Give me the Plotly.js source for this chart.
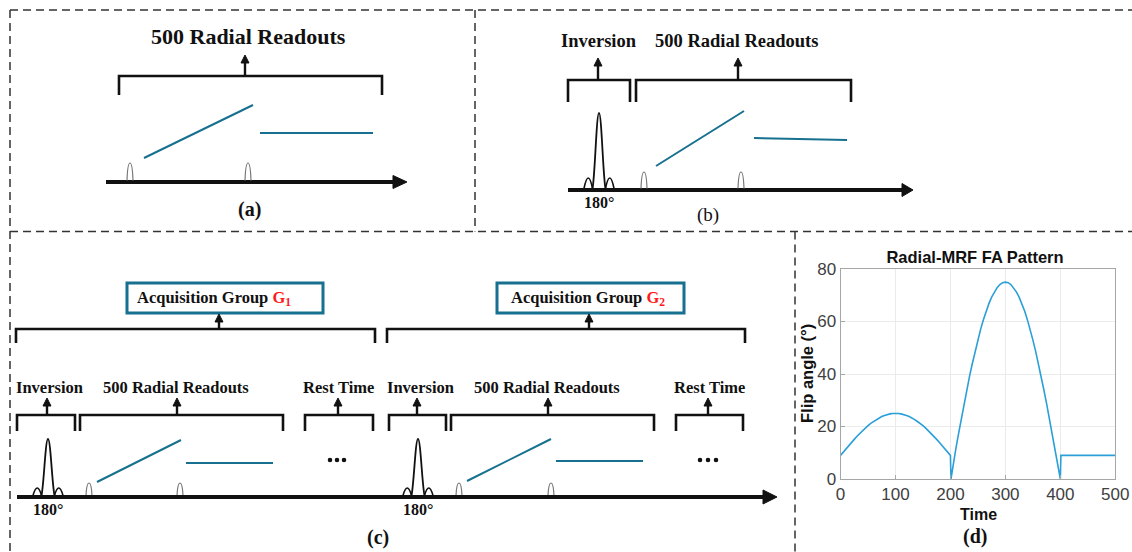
<!DOCTYPE html>
<html>
<head>
<meta charset="utf-8">
<script src="https://cdn.plot.ly/plotly-3.0.1.min.js"></script>
<style>html,body{margin:0;padding:0;background:#fff;}#chart{width:1132px;height:552px;}</style>
</head>
<body>
<div id="chart"></div>
<script>
// ---------- data (panel d: Radial-MRF flip angle pattern) ----------
const timeSteps = [0,5,10,15,20,25,30,35,40,45,50,55,60,65,70,75,80,85,90,95,
                   100,105,110,115,120,125,130,135,140,145,150,155,160,165,170,175,180,185,190,195,200,
                   201,205,210,215,220,225,230,235,240,245,250,255,260,265,270,275,280,285,290,295,
                   300,305,310,315,320,325,330,335,340,345,350,355,360,365,370,375,380,385,390,395,400,
                   401,500];
const flipAngle = [9.0,10.3,11.5,12.7,13.9,15.1,16.3,17.4,18.4,19.4,20.3,21.2,21.9,22.6,23.3,23.8,24.2,24.6,24.8,24.95,
                   25.0,24.95,24.8,24.6,24.2,23.8,23.3,22.6,21.9,21.2,20.3,19.4,18.4,17.4,16.3,15.1,13.9,12.7,11.5,10.3,9.0,
                   0.0,5.9,11.7,17.5,23.2,28.7,34.0,39.4,44.1,48.7,53.0,57.1,60.7,64.0,66.8,69.3,71.3,72.9,74.1,74.8,
                   75.0,74.8,74.1,72.9,71.3,69.3,66.8,64.0,60.7,57.1,53.0,48.7,44.1,39.4,34.0,28.7,23.2,17.5,11.7,5.9,0.0,
                   9.0,9.0];
const xTickVals = [0,100,200,300,400,500];
const yTickVals = [0,20,40,60,80];

// ---------- text labels ----------
const readoutLabel = '500 Radial Readouts';
const inversionLabel = 'Inversion';
const restLabel = 'Rest Time';
const pulseLabel = '180°';
const groupLabel = 'Acquisition Group';
const groupIds = ['G<sub>1</sub>','G<sub>2</sub>'];
const panelLabels = ['(a)','(b)','(c)','(d)'];

// ---------- helpers (pixel -> paper) ----------
const W = 1132, H = 552;
const X = px => px / W;
const Y = py => 1 - py / H;
const ink = '#111111';
const teal = '#17708f';
const shapes = [];
const annotations = [];

function seg(x0,y0,x1,y1,color,width,dash){
  shapes.push({type:'line',xref:'paper',yref:'paper',x0:X(x0),y0:Y(y0),x1:X(x1),y1:Y(y1),
    line:{color:color||ink,width:width||2.5,dash:dash||'solid'}});
}
function build(cmds){
  return cmds.map(c=>{
    const k=c[0]; const nums=c.slice(1); let s=k;
    for(let i=0;i<nums.length;i+=2){ s += (i? ' ':'') + X(nums[i]).toFixed(5)+','+Y(nums[i+1]).toFixed(5); }
    return s;
  }).join(' ');
}
function pth(cmds,color,width,fill){
  shapes.push({type:'path',xref:'paper',yref:'paper',path:build(cmds),
    line:{color:color||ink,width:width||2},fillcolor:fill||'rgba(0,0,0,0)'});
}
function bracket(x1,x2,top,bottom){
  pth([['M',x1,bottom],['L',x1,top],['L',x2,top],['L',x2,bottom]],ink,2.6);
}
function upArrow(x,from,tip){
  seg(x,from,x,tip+6,ink,2.4);
  pth([['M',x-4,tip+8],['L',x,tip],['L',x+4,tip+8],['Z']],ink,1,ink);
}
function axisArrow(x0,x1,tip,y,hh){
  seg(x0,y,x1+1,y,ink,4.2);
  pth([['M',x1,y-hh],['L',tip,y],['L',x1,y+hh],['Z']],ink,1,ink);
}
function sinc(cx,base,peak,lobePeak){
  pth([['M',cx-6.5,base],['C',cx-4,base-12,cx-2.6,peak,cx,peak],['C',cx+2.6,peak,cx+4,base-12,cx+6.5,base]],ink,1.8);
  const c = 2*lobePeak - base;
  pth([['M',cx-15,base],['Q',cx-10.75,c,cx-6.5,base]],ink,1.6);
  pth([['M',cx+6.5,base],['Q',cx+10.75,c,cx+15,base]],ink,1.6);
}
function blip(x,base,top){
  const c = base + (top-base)*4/3;
  pth([['M',x-3,base],['C',x-2.2,c,x+2.2,c,x+3,base]],'#777',1.2);
}
function dots(xs,y){
  xs.forEach(x=>shapes.push({type:'circle',xref:'paper',yref:'paper',x0:X(x-2.3),x1:X(x+2.3),y0:Y(y-2.3),y1:Y(y+2.3),
    line:{width:0},fillcolor:ink}));
}
function txt(x,y,text,size,extra){
  annotations.push(Object.assign({xref:'paper',yref:'paper',x:X(x),y:Y(y),xanchor:'center',yanchor:'middle',
    text:text,showarrow:false,
    font:{family:'"Liberation Serif","Times New Roman",serif',size:size,color:ink}},extra||{}));
}

// ---------- dashed panel borders ----------
const dsh = '8px,5px';
seg(10,10,1132,10,'#333',1.5,dsh);
seg(10,231.5,1132,231.5,'#333',1.5,dsh);
seg(10,10,10,552,'#333',1.5,dsh);
seg(475,10,475,231.5,'#333',1.5,dsh);
seg(795,231.5,795,552,'#333',1.5,dsh);

// ---------- panel (a) ----------
txt(248,37,'<b>'+readoutLabel+'</b>',22);
bracket(119,382,76,95);
upArrow(245,76,55);
seg(144,158,253,105,teal,2);
seg(260,133,373,133,teal,2);
axisArrow(106,393,407,182,6.5);
blip(130,180.5,163);
blip(248,180.5,163);
txt(250,209,'<b>'+panelLabels[0]+'</b>',20);

// ---------- panel (b) ----------
txt(599,41,'<b>'+inversionLabel+'</b>',18.5);
txt(736,41,'<b>'+readoutLabel+'</b>',18.5);
bracket(568,630,80,102);
upArrow(598,80,58);
bracket(636,851,80,102);
upArrow(738,80,58);
axisArrow(568,902,913,190,6.5);
sinc(599,188.5,113,178);
blip(644,188.5,172);
blip(741,188.5,172);
seg(656,166,744,111,teal,2);
seg(754,138,847,140,teal,2);
txt(599,203,'<b>'+pulseLabel+'</b>',16);
txt(708,215,panelLabels[1],19);

// ---------- panel (c) ----------
const groups = [
  {big:[16,375],  bigArrow:219, box:[127,323], boxText:214,
   inv:[17,75,47], read:[80,283,177], rest:[305,373,338], labels:[49,176,338],
   sinc:48, blips:[89,180], ramp:[97,482,181,440], flat:[186,463,273,463], dots:[330,337,344]},
  {big:[387,745], bigArrow:589, box:[497,684], boxText:588,
   inv:[389,446,417], read:[451,654,548], rest:[676,743,708], labels:[420,547,709],
   sinc:418, blips:[459,551], ramp:[467,481,551,439], flat:[556,461,643,461], dots:[700,708,716]}
];
groups.forEach((g,i)=>{
  shapes.push({type:'rect',xref:'paper',yref:'paper',x0:X(g.box[0]),x1:X(g.box[1]),y0:Y(313),y1:Y(283),
    line:{color:teal,width:3},fillcolor:'#fff'});
  txt(g.boxText,298,'<b>'+groupLabel+' <span style="color:#ff1a1a">'+groupIds[i]+'</span></b>',16.5);
  bracket(g.big[0],g.big[1],329,343);
  upArrow(g.bigArrow,329,314);
  txt(g.labels[0],387,'<b>'+inversionLabel+'</b>',16.5);
  txt(g.labels[1],387,'<b>'+readoutLabel+'</b>',16.5);
  txt(g.labels[2],387,'<b>'+restLabel+'</b>',16.5);
  [g.inv,g.read,g.rest].forEach(b=>{ bracket(b[0],b[1],415,431); upArrow(b[2],415,398); });
  sinc(g.sinc,495.5,439,488);
  g.blips.forEach(b=>blip(b,495.5,483));
  seg(g.ramp[0],g.ramp[1],g.ramp[2],g.ramp[3],teal,2);
  seg(g.flat[0],g.flat[1],g.flat[2],g.flat[3],teal,2);
  dots(g.dots,460);
  txt(g.sinc,509,'<b>'+pulseLabel+'</b>',16);
});
axisArrow(17,763,777,497,7);
txt(378,537,'<b>'+panelLabels[2]+'</b>',20);

// ---------- panel (d) labels ----------
const sans = '"Liberation Sans", Arial, sans-serif';
annotations.push({xref:'paper',yref:'paper',x:X(978),y:Y(514),xanchor:'center',yanchor:'middle',showarrow:false,
  text:'<b>Time</b>',font:{family:sans,size:16,color:ink}});
annotations.push({xref:'paper',yref:'paper',x:X(807),y:Y(374),xanchor:'center',yanchor:'middle',showarrow:false,
  textangle:-90,text:'<b>Flip angle (°)</b>',font:{family:sans,size:16.5,color:ink}});
txt(975,536,'<b>'+panelLabels[3]+'</b>',20);

// ---------- trace ----------
const trace = {
  x: timeSteps, y: flipAngle, type:'scatter', mode:'lines',
  line:{color:'#2a9fd8',width:1.6}, hoverinfo:'skip', showlegend:false
};

const axisCommon = {
  showgrid:true, gridcolor:'#ebebeb', gridwidth:1, zeroline:false,
  showline:true, mirror:true, linecolor:'#a6a6a6', linewidth:1,
  ticks:'inside', ticklen:4, tickcolor:'#a6a6a6',
  tickfont:{family:sans,size:17,color:'#404040'}, fixedrange:true
};

const layout = {
  width:W, height:H, margin:{l:0,r:0,t:0,b:0},
  paper_bgcolor:'#fff', plot_bgcolor:'#fff',
  title:{text:'<b>Radial-MRF FA Pattern</b>', x:X(975), y:Y(257), xref:'paper', yref:'paper',
    xanchor:'center', yanchor:'middle', font:{family:sans,size:16.5,color:ink}},
  xaxis:Object.assign({}, axisCommon, {domain:[X(840.5),X(1115.3)], range:[0,500], tickvals:xTickVals}),
  yaxis:Object.assign({}, axisCommon, {domain:[Y(479),Y(269)], range:[0,80], tickvals:yTickVals}),
  shapes:shapes, annotations:annotations
};

Plotly.newPlot('chart',[trace],layout,{staticPlot:true,displayModeBar:false});
</script>
</body>
</html>
